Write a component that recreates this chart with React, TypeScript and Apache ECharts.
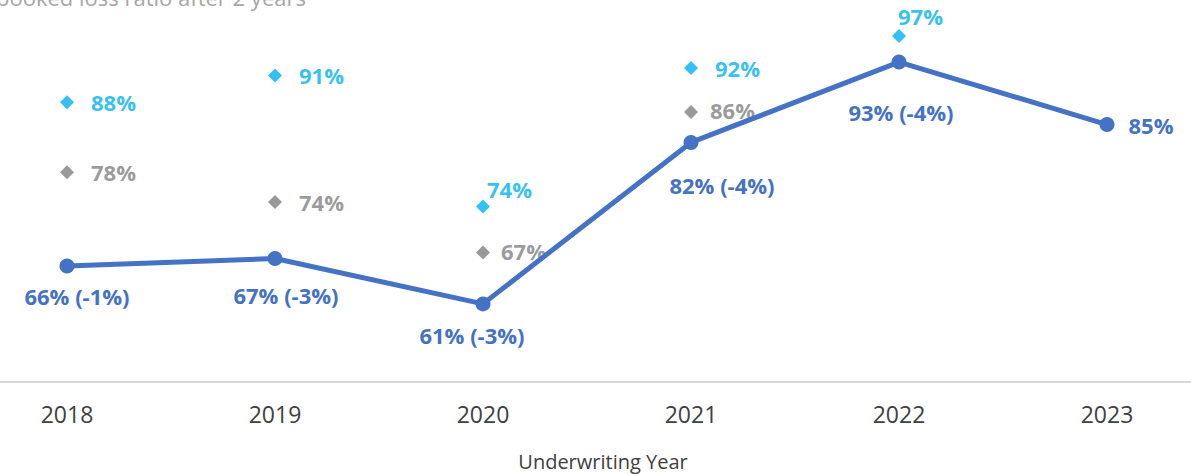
import React, { useEffect, useRef } from "react";
import * as echarts from "echarts";

const years = ["2018", "2019", "2020", "2021", "2022", "2023"];
const lossRatio = [65.6, 66.6, 60.5, 82.2, 93.0, 84.6];
const lossChange: (number | null)[] = [-1, -3, -3, -4, -4, null];
const bookedAfter2 = [78.2, 74.2, 67.4, 86.3, null, null];
const initialRatio = [87.6, 91.2, 73.6, 92.2, 96.5, null];

const FONT = "Open Sans";
const BLUE = "#4472C4";
const CYAN = "#00B0F0";
const GREY = "#7F7F7F";

// label placement tweaks (pixels)
const lineLabelOffsets: [number, number][] = [[10, 2], [11, 8], [-11, 3], [31, 14], [2, 21], [0, 0]];
const greyLabelOffsets: [number, number][] = [[7, 0], [7, 0], [1, -2], [2, -2], [0, 0], [0, 0]];
const cyanLabelOffsets: [number, number][] = [[7, 0], [7, 0], [-13, -17], [7, 0], [-18, -20], [0, 0]];

export default function App() {
  const ref = useRef<HTMLDivElement>(null);
  useEffect(() => {
    if (!ref.current) return;
    const chart = echarts.init(ref.current, null, { renderer: "svg" });
    const lineData = lossRatio.map((v, i) => ({
      value: v,
      label: {
        show: true,
        position: i === 5 ? "right" : "bottom",
        distance: i === 5 ? 14 : 10,
        offset: lineLabelOffsets[i],
        formatter: () =>
          lossChange[i] === null
            ? `${Math.round(v)}%`
            : `${Math.round(v)}% (${lossChange[i]}%)`,
      },
    }));
    const diamondData = (arr: (number | null)[], offs: [number, number][]) =>
      arr.map((v, i) =>
        v === null
          ? null
          : {
              value: v,
              label: {
                show: true,
                position: "right",
                distance: 10,
                offset: offs[i],
                formatter: () => `${Math.round(v)}%`,
              },
            }
      );
    chart.setOption({
      animation: false,
      grid: { left: -37, right: -20, top: 10, bottom: 92, outerBoundsMode: "none", containLabel: false },
      xAxis: {
        type: "category",
        data: years,
        boundaryGap: true,
        axisTick: { show: false },
        axisLine: { lineStyle: { color: "#D9D9D9", width: 2 } },
        axisLabel: { fontFamily: FONT, fontSize: 23, color: "#404040", margin: 20 },
      },
      yAxis: {
        type: "value",
        min: 50,
        max: 100,
        show: false,
        splitLine: { show: false },
      },
      graphic: [
        {
          type: "text",
          left: -4,
          top: -14,
          style: { text: "booked loss ratio after 2 years", fontFamily: FONT, fontSize: 22, fill: "#A6A6A6" },
        },
        {
          type: "text",
          x: 603,
          y: 461,
          style: {
            text: "Underwriting Year",
            fontFamily: FONT,
            fontSize: 20,
            fill: "#404040",
            align: "center",
            verticalAlign: "middle",
          },
        },
      ],
      series: [
        {
          name: "Initial",
          type: "scatter",
          symbol: "diamond",
          symbolSize: 14,
          itemStyle: { color: CYAN },
          label: { fontFamily: FONT, fontSize: 22, fontWeight: "bold", color: CYAN },
          data: diamondData(initialRatio, cyanLabelOffsets),
          z: 3,
        },
        {
          name: "Booked after 2 years",
          type: "scatter",
          symbol: "diamond",
          symbolSize: 14,
          itemStyle: { color: GREY },
          label: { fontFamily: FONT, fontSize: 22, fontWeight: "bold", color: GREY },
          data: diamondData(bookedAfter2, greyLabelOffsets),
          z: 3,
        },
        {
          name: "Loss ratio",
          type: "line",
          symbol: "circle",
          symbolSize: 15,
          lineStyle: { color: BLUE, width: 5 },
          itemStyle: { color: BLUE },
          label: { fontFamily: FONT, fontSize: 22, fontWeight: "bold", color: BLUE },
          data: lineData,
          z: 4,
        },
      ],
    });
    return () => chart.dispose();
  }, []);
  return (
    <div
      ref={ref}
      style={{ position: "absolute", left: 0, top: 0, width: 1191, height: 474 }}
    />
  );
}
